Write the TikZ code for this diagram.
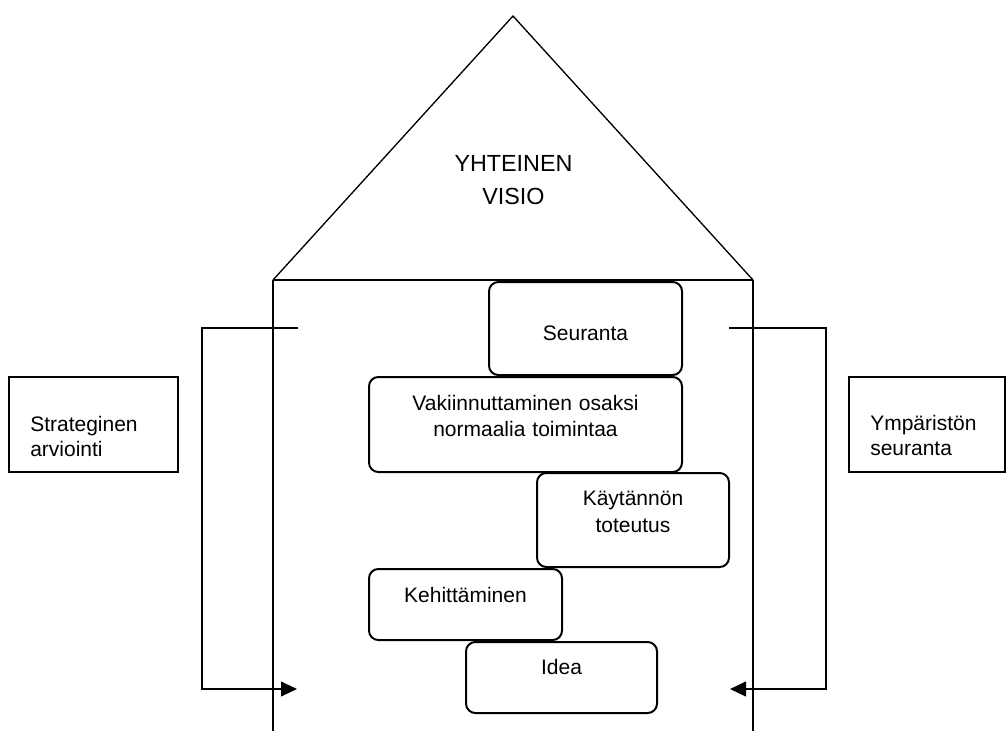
\documentclass[tikz,border=0pt]{standalone}
\usepackage{fontspec}
\setmainfont{Liberation Sans}
\usetikzlibrary{arrows.meta,fit}
\begin{document}
\begin{tikzpicture}[x=0.75pt,y=-0.75pt,
  wall/.style={line width=1.5pt},
  roof/.style={line width=1pt},
  stage/.style={draw,line width=1.5pt,rounded corners=7pt,inner sep=0pt},
  sidebox/.style={draw,line width=1.5pt,inner sep=0pt},
  lbl/.style={font=\fontsize{15.75}{20}\selectfont,inner sep=0pt,anchor=base},
  lbltwo/.style={lbl,align=center,text width=#1},
  sidelbl/.style={font=\fontsize{15.75}{18.75}\selectfont,inner sep=0pt,
    anchor=base west,align=left,text width=110pt},
  feedback/.style={line width=1.5pt,-{Triangle[length=12pt,width=11pt]}}]
\useasboundingbox (0,0) rectangle (1007,731);

% house: roof and walls
\coordinate (eaveL) at (273,280);
\coordinate (eaveR) at (753,280);
\coordinate (apex) at (513,16);
\coordinate (footL) at (273,731);
\coordinate (footR) at (753,731);
\draw[roof] (eaveL) -- (apex) -- (eaveR);
\draw[wall] (eaveL) -- (eaveR);
\draw[wall] (eaveL) -- (footL);
\draw[wall] (eaveR) -- (footR);
\node (visio) [font=\fontsize{17.5}{24.75}\selectfont,inner sep=0pt,anchor=base,
  align=center,text width=150pt] at (513.5,171.7) {YHTEINEN\\VISIO};

% stages inside the house
\coordinate (s1a) at (489,282); \coordinate (s1b) at (682,375);
\coordinate (s2a) at (369,377); \coordinate (s2b) at (682,472);
\coordinate (s3a) at (537,473); \coordinate (s3b) at (729,567);
\coordinate (s4a) at (369,569); \coordinate (s4b) at (562,640);
\coordinate (s5a) at (466,642); \coordinate (s5b) at (657,713);
\node (seuranta) [stage, fit=(s1a)(s1b)] {};
\node (vakiin) [stage, fit=(s2a)(s2b)] {};
\node (kaytanto) [stage, fit=(s3a)(s3b)] {};
\node (kehitys) [stage, fit=(s4a)(s4b)] {};
\node (idea) [stage, fit=(s5a)(s5b)] {};

\node (seurantaT) [lbl] at (585.5,340) {Seuranta};
\node (vakiinT) [lbltwo=230pt] at (525.5,410) {Vakiinnuttaminen osaksi\\normaalia toimintaa};
\node (kaytantoT) [lbltwo=130pt] at (633,505.7) {Käytännön\\toteutus};
\node (kehitysT) [lbl] at (465.5,602.7) {Kehittäminen};
\node (ideaT) [lbl] at (561.5,674) {Idea};

% side boxes
\coordinate (b1a) at (9,377); \coordinate (b1b) at (178,472);
\coordinate (b2a) at (849,377); \coordinate (b2b) at (1005,472);
\node (strat) [sidebox, fit=(b1a)(b1b)] {};
\node (ymp) [sidebox, fit=(b2a)(b2b)] {};
\node (stratT) [sidelbl] at (30,431) {Strateginen\\arviointi};
\node (ympT) [sidelbl] at (870,430.7) {Ympäristön\\seuranta};

% feedback loops
\coordinate (lTop) at (298,328);
\coordinate (lCorner1) at (202,328);
\coordinate (lCorner2) at (202,689);
\coordinate (lEnd) at (297,689);
\coordinate (rTop) at (729,328);
\coordinate (rCorner1) at (826,328);
\coordinate (rCorner2) at (826,689);
\coordinate (rEnd) at (730,689);
\draw[feedback] (lTop) -- (lCorner1) -- (lCorner2) -- (lEnd);
\draw[feedback] (rTop) -- (rCorner1) -- (rCorner2) -- (rEnd);
\end{tikzpicture}
\end{document}
